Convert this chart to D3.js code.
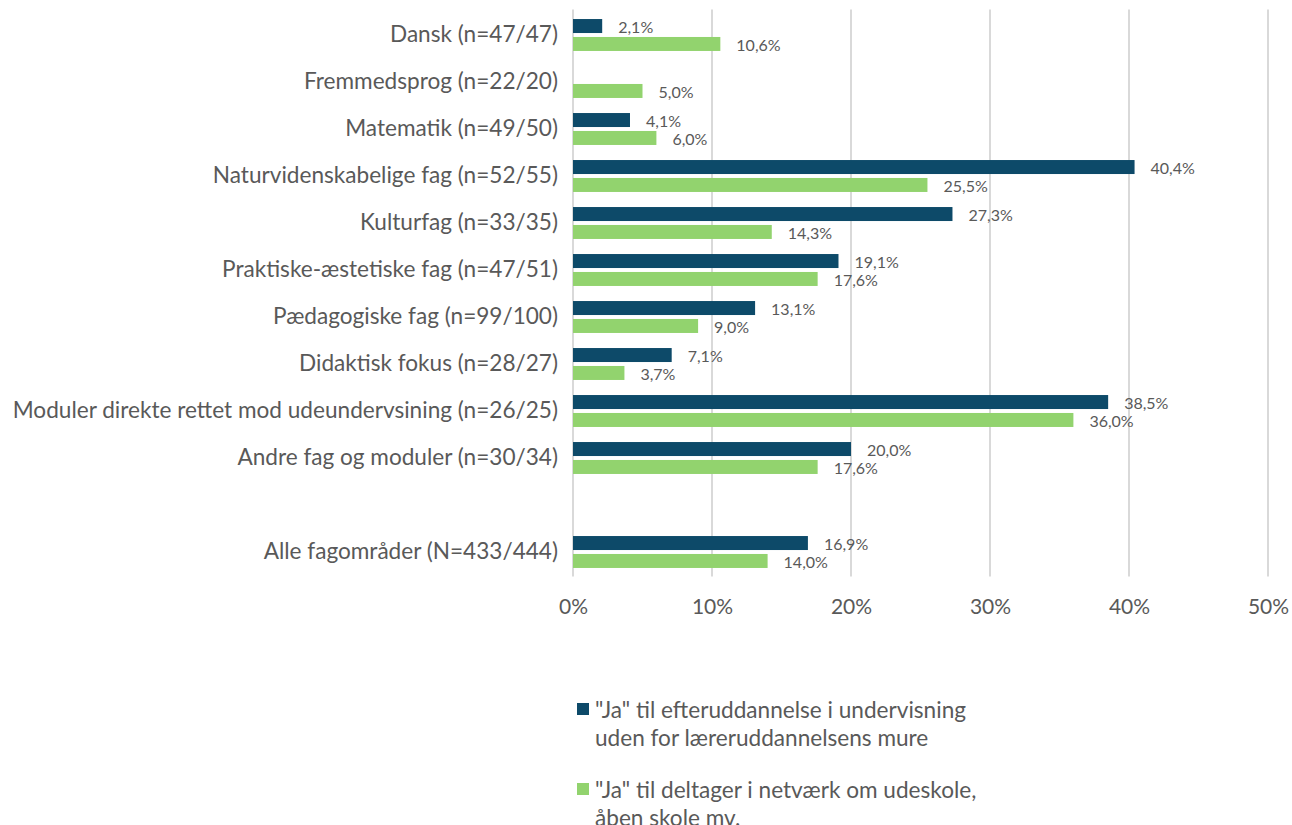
<!DOCTYPE html>
<html>
<head>
<meta charset="utf-8">
<style>
  body { margin: 0; background: #fff; overflow: hidden; }
  svg { display: block; }
  text { font-family: Lato, "Open Sans", sans-serif; fill: #595959; }
</style>
</head>
<body>
<script src="https://d3js.org/d3.v7.min.js"></script>
<svg id="chart" width="1292" height="825"></svg>
<script>
  // categories, '' is the empty spacer row before the total
  const categories = [
    'Dansk (n=47/47)',
    'Fremmedsprog (n=22/20)',
    'Matematik (n=49/50)',
    'Naturvidenskabelige fag (n=52/55)',
    'Kulturfag (n=33/35)',
    'Praktiske-æstetiske fag (n=47/51)',
    'Pædagogiske fag (n=99/100)',
    'Didaktisk fokus (n=28/27)',
    'Moduler direkte rettet mod udeundervsining (n=26/25)',
    'Andre fag og moduler (n=30/34)',
    '',
    'Alle fagområder (N=433/444)'
  ];
  const efteruddannelse = [2.1, null, 4.1, 40.4, 27.3, 19.1, 13.1, 7.1, 38.5, 20.0, null, 16.9];
  const netvaerk = [10.6, 5.0, 6.0, 25.5, 14.3, 17.6, 9.0, 3.7, 36.0, 17.6, null, 14.0];
  const xTicks = [0, 10, 20, 30, 40, 50];
  const seriesNames = [
    ['"Ja" til efteruddannelse i undervisning', 'uden for læreruddannelsens mure'],
    ['"Ja" til deltager i netværk om udeskole,', 'åben skole mv.']
  ];
  const colors = ['#0d4a69', '#92d36e'];

  const margin = {top: 11.5, left: 573};
  const innerWidth = 695;
  const innerHeight = 47 * categories.length;

  const svg = d3.select('#chart');
  const g = svg.append('g').attr('transform', `translate(${margin.left}, ${margin.top})`);

  const xScale = d3.scaleLinear().domain([0, 50]).range([0, innerWidth]);
  const yScale = d3.scaleBand().domain(categories).range([0, innerHeight]);
  const subScale = d3.scaleBand().domain([0, 1]).range([0, yScale.bandwidth()])
                     .paddingInner(0.22).paddingOuter(0.42);

  // gridlines
  g.append('g').selectAll('line')
   .data(xTicks)
   .enter().append('line')
   .attr('x1', d => xScale(d)).attr('x2', d => xScale(d))
   .attr('y1', -2).attr('y2', innerHeight + 1)
   .attr('stroke', '#d9d9d9').attr('stroke-width', 2);

  // x axis labels
  const xAxis = d3.axisBottom(xScale).tickValues(xTicks).tickSize(0).tickPadding(24)
                  .tickFormat(d => d + '%');
  const xg = g.append('g').attr('transform', `translate(0, ${innerHeight})`).call(xAxis);
  xg.select('.domain').remove();
  xg.selectAll('text').attr('font-size', 21).style('font-family', 'Lato').attr('fill', '#595959');

  // y axis labels
  const yAxis = d3.axisLeft(yScale).tickSize(0).tickPadding(15);
  const yg = g.append('g').call(yAxis);
  yg.select('.domain').remove();
  yg.selectAll('text').attr('font-size', 22.6).style('font-family', 'Lato').attr('fill', '#595959');

  // bars
  const seriesData = [efteruddannelse, netvaerk];
  seriesData.forEach((values, si) => {
    const rows = categories.map((c, i) => ({cat: c, value: values[i]})).filter(d => d.value != null);
    const sg = g.append('g');
    sg.selectAll('rect')
      .data(rows)
      .enter().append('rect')
      .attr('x', 0)
      .attr('y', d => yScale(d.cat) + subScale(si))
      .attr('width', d => xScale(d.value))
      .attr('height', subScale.bandwidth())
      .attr('fill', colors[si]);
    sg.selectAll('text')
      .data(rows)
      .enter().append('text')
      .attr('x', d => xScale(d.value) + 16)
      .attr('y', d => yScale(d.cat) + subScale(si) + subScale.bandwidth() / 2 + (si === 0 ? 1 : 1.5))
      .attr('dy', '0.35em')
      .attr('font-size', 16)
      .text(d => d.value.toFixed(1).replace('.', ',') + '%');
  });

  // legend
  const legend = svg.append('g').attr('transform', 'translate(577, 0)');
  const legendY = [710, 790];
  seriesNames.forEach((lines, i) => {
    legend.append('rect')
      .attr('x', 0).attr('y', legendY[i] - 7)
      .attr('width', 12).attr('height', 12)
      .attr('fill', colors[i]);
    lines.forEach((t, j) => {
      legend.append('text')
        .attr('x', 18).attr('y', legendY[i] + j * 28)
        .attr('dy', '0.35em')
        .attr('font-size', 22.6)
        .text(t);
    });
  });
</script>
</body>
</html>
